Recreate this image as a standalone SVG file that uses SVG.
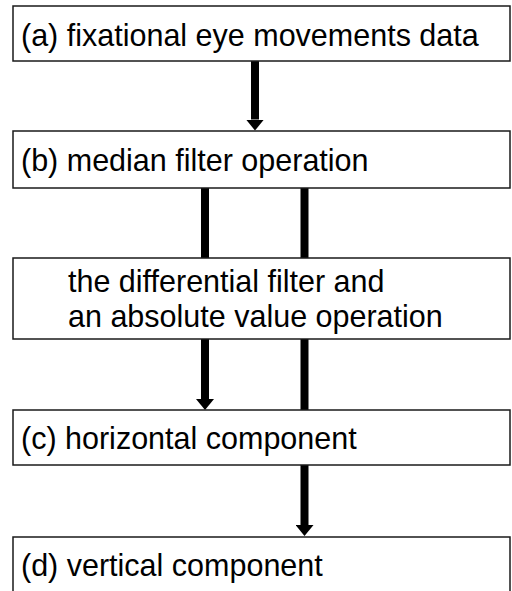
<svg xmlns="http://www.w3.org/2000/svg" width="512" height="591" viewBox="0 0 512 591">
<style>
.box{fill:#fff;stroke:#1a1a1a;stroke-width:1.5}
.lbl{font-family:"Liberation Sans",Arial,sans-serif;font-size:30.5px;fill:#000}
.shaft{stroke:#000;stroke-width:8;fill:none}
</style>
<defs>
<marker id="ah" markerUnits="userSpaceOnUse" markerWidth="11" markerHeight="18" viewBox="0 0 11 18" refX="0" refY="9" orient="auto">
<path d="M0,0 L11,9 L0,18 z" fill="#000"/>
</marker>
</defs>
<rect width="512" height="591" fill="#fff"/>
<g id="connectors">
<line class="shaft" x1="255" y1="61" x2="255" y2="119.5" marker-end="url(#ah)"/>
<line class="shaft" x1="205" y1="188" x2="205" y2="258"/>
<line class="shaft" x1="304.5" y1="188" x2="304.5" y2="258"/>
<line class="shaft" x1="205" y1="339" x2="205" y2="399" marker-end="url(#ah)"/>
<line class="shaft" x1="304.5" y1="339" x2="304.5" y2="410"/>
<line class="shaft" x1="304.5" y1="465" x2="304.5" y2="525" marker-end="url(#ah)"/>
</g>
<g id="node-a">
<rect class="box" x="13" y="6" width="497" height="55"/>
<text class="lbl" x="21" y="45.5">(a) fixational eye movements data</text>
</g>
<g id="node-b">
<rect class="box" x="13" y="131" width="497" height="57"/>
<text class="lbl" x="21" y="170.5">(b) median filter operation</text>
</g>
<g id="node-diff">
<rect class="box" x="13" y="258" width="497" height="81"/>
<text class="lbl" x="68" y="291.5">the differential filter and</text>
<text class="lbl" x="68" y="326.5">an absolute value operation</text>
</g>
<g id="node-c">
<rect class="box" x="13" y="410" width="497" height="55"/>
<text class="lbl" x="21" y="448.5">(c) horizontal component</text>
</g>
<g id="node-d">
<rect class="box" x="13" y="537" width="497" height="60"/>
<text class="lbl" x="21" y="575.5">(d) vertical component</text>
</g>
</svg>
